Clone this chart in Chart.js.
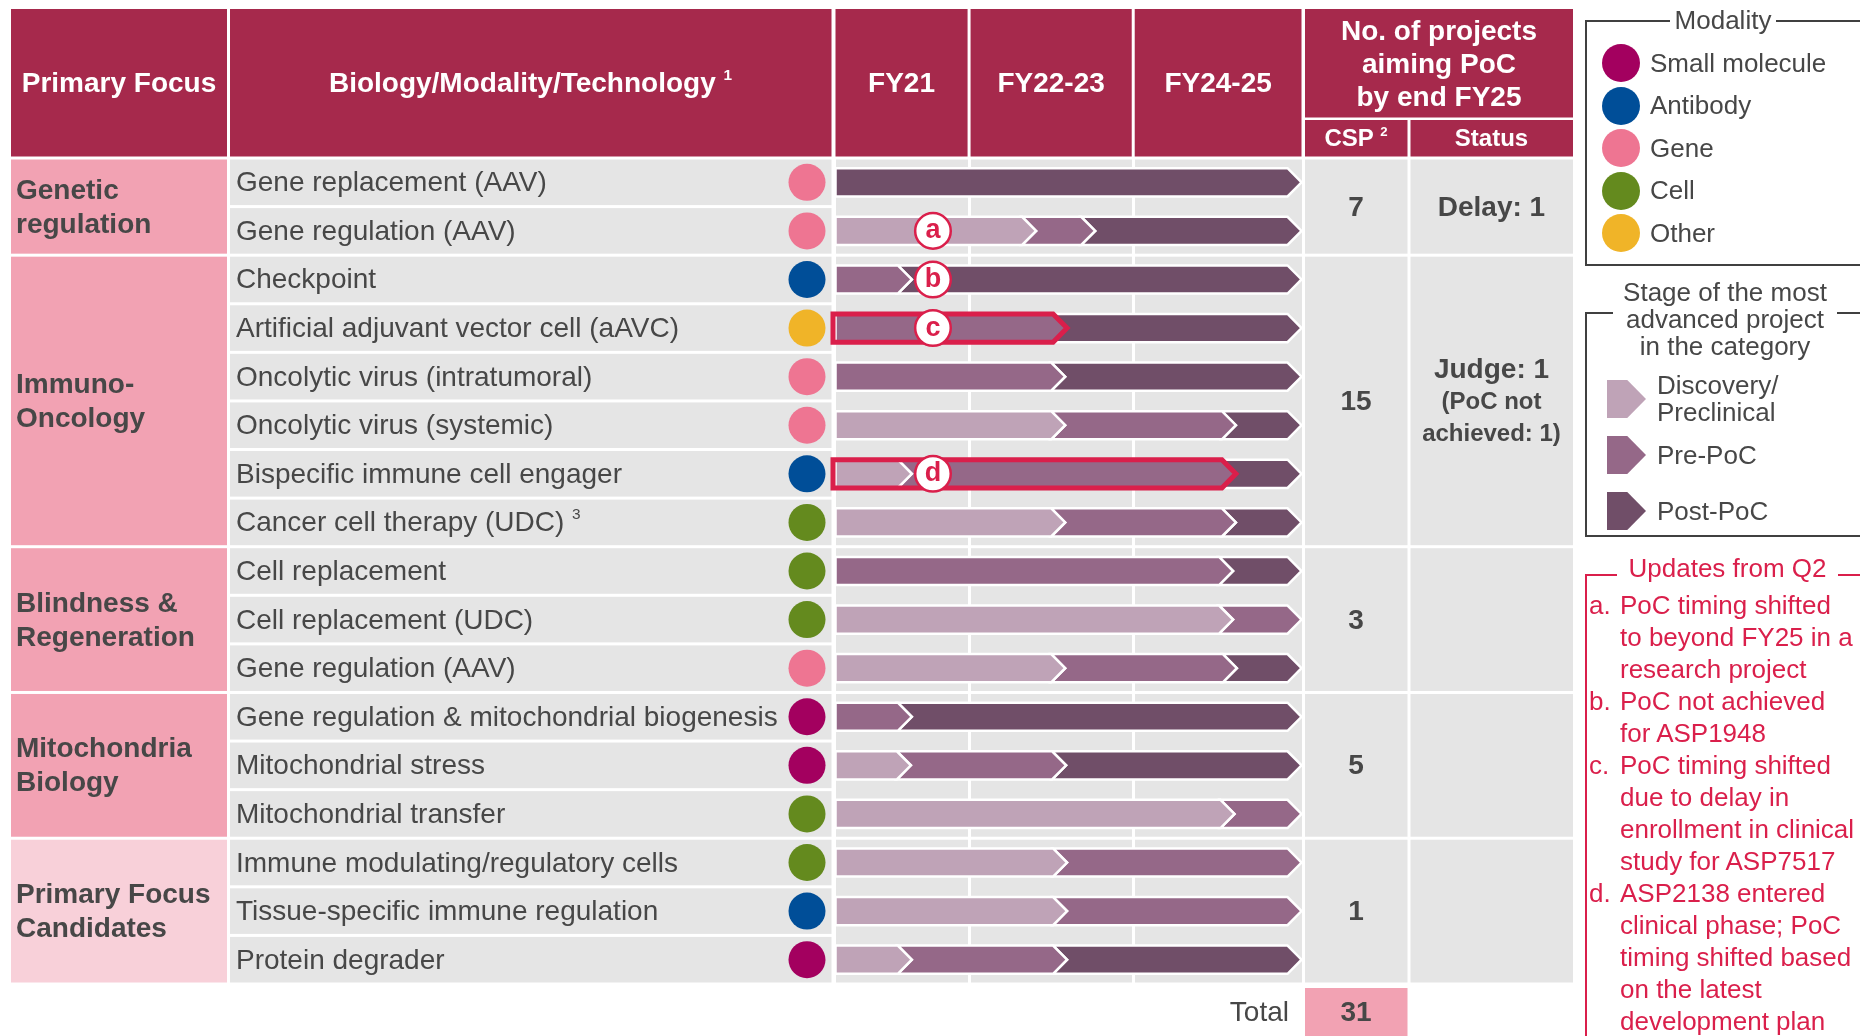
<!DOCTYPE html>
<html lang="en">
<head>
  <meta charset="UTF-8" />
  <title>Primary Focus pipeline</title>
  <script src="https://cdn.jsdelivr.net/npm/chart.js"></script>
  <style>
    html, body { margin: 0; padding: 0; background: #fff; }
    body {
      width: 1860px; height: 1036px; overflow: hidden; position: relative;
      font-family: 'Liberation Sans', Arial, Helvetica, sans-serif;
      color: #474747;
    }
    canvas { position: absolute; left: 0; top: 0; }
    .t { position: absolute; display: flex; align-items: center; white-space: nowrap; box-sizing: border-box; }
    .c { justify-content: center; text-align: center; }
    .b { font-weight: bold; }
    .hd { color: #fff; font-weight: bold; font-size: 28px; }
    sup { font-size: 0.55em; vertical-align: 0.75em; line-height: 0; }
  </style>
</head>
<body>
  <canvas id="pipe" width="1860" height="1036"></canvas>

  <script>
    // ---- data ----
    const rowLabels = [
      'Gene replacement (AAV)', 'Gene regulation (AAV)',
      'Checkpoint', 'Artificial adjuvant vector cell (aAVC)', 'Oncolytic virus (intratumoral)',
      'Oncolytic virus (systemic)', 'Bispecific immune cell engager', 'Cancer cell therapy (UDC)',
      'Cell replacement', 'Cell replacement (UDC)', 'Gene regulation (AAV)',
      'Gene regulation & mitochondrial biogenesis', 'Mitochondrial stress', 'Mitochondrial transfer',
      'Immune modulating/regulatory cells', 'Tissue-specific immune regulation', 'Protein degrader'
    ];
    const rowFootnotes = ['', '', '', '', '', '', '', '3', '', '', '', '', '', '', '', '', ''];
    const rowModality = [
      'Gene', 'Gene', 'Antibody', 'Other', 'Gene', 'Gene', 'Antibody', 'Cell', 'Cell', 'Cell', 'Gene',
      'Small molecule', 'Small molecule', 'Cell', 'Cell', 'Antibody', 'Small molecule'
    ];
    // stage segment lengths, % of the FY21-FY25 timeline
    const discovery = [0, 41.6, 0, 0, 0, 47.8, 15.1, 47.8, 0, 83.6, 47.8, 0, 14.9, 83.9, 48.2, 48.2, 15.1];
    const prePoC    = [0, 12.6, 15.1, 48.2, 47.8, 36.4, 69.1, 36.4, 83.6, 14.6, 36.6, 15.1, 33.1, 14.3, 50.0, 50.0, 33.1];
    const postPoC   = [98.2, 44.0, 83.1, 50.0, 50.4, 14.0, 14.0, 14.0, 14.6, 0, 13.8, 83.1, 50.2, 0, 0, 0, 50.0];

    const columnLabels = ['FY21', 'FY22-23', 'FY24-25'];
    const columnEdges = [0, 28.8, 63.8, 100];

    const groupNames = [['Genetic', 'regulation'], ['Immuno-', 'Oncology'], ['Blindness &', 'Regeneration'],
                        ['Mitochondria', 'Biology'], ['Primary Focus', 'Candidates']];
    const groupSizes = [2, 6, 3, 3, 3];
    const groupCSP = [7, 15, 3, 5, 1];
    const groupStatus = ['Delay: 1', 'Judge: 1', '', '', ''];
    const groupStatusNote = [[], ['(PoC not', 'achieved: 1)'], [], [], []];

    const modalities = ['Small molecule', 'Antibody', 'Gene', 'Cell', 'Other'];
    const modalityColors = ['#a3005f', '#004e98', '#ee7592', '#648a1e', '#f0b428'];
    const stages = ['Discovery/Preclinical', 'Pre-PoC', 'Post-PoC'];
    const stageLegend = [['Discovery/', 'Preclinical'], ['Pre-PoC'], ['Post-PoC']];
    const stageColors = ['#bfa3b7', '#956888', '#704e68'];

    const updateRows = [1, 2, 3, 6];
    const updateLetters = ['a', 'b', 'c', 'd'];
    const updateBoxed = [false, false, true, true];
    const updateMarkX = 21.1;
    const updateNotes = [
      ['PoC timing shifted', 'to beyond FY25 in a', 'research project'],
      ['PoC not achieved', 'for ASP1948'],
      ['PoC timing shifted', 'due to delay in', 'enrollment in clinical', 'study for ASP7517'],
      ['ASP2138 entered', 'clinical phase; PoC', 'timing shifted based', 'on the latest', 'development plan']
    ];

    const stageSeries = [discovery, prePoC, postPoC];

    const RED = '#da1f4b', CRIMSON = '#a6294c', PINK = '#f2a2b3', PINK_LIGHT = '#f8d0d9', GRAY = '#e5e5e5';
    const HEAD_TOP = 9, HEAD_BOT = 156.5;
    const CHEV = 7;

    function rowBand(y, i) {
      const step = y.getPixelForValue(1) - y.getPixelForValue(0);
      const c = y.getPixelForValue(i);
      return [c - step / 2, c + step / 2];
    }

    function groupBands(y) {
      let r0 = 0;
      return groupSizes.map(n => {
        const band = [rowBand(y, r0)[0] + 1.5, rowBand(y, r0 + n - 1)[1] - 1.5];
        r0 += n;
        return band;
      });
    }

    const tablePlugin = {
      id: 'table',
      beforeDraw(chart) {
        const { ctx, scales: { x, y } } = chart;
        ctx.save();
        ctx.fillStyle = CRIMSON;
        ctx.fillRect(11, HEAD_TOP, 216, HEAD_BOT - HEAD_TOP);
        ctx.fillRect(230, HEAD_TOP, 601.5, HEAD_BOT - HEAD_TOP);
        columnLabels.forEach((_, k) => {
          const l = x.getPixelForValue(columnEdges[k]) + 1.5;
          const r = x.getPixelForValue(columnEdges[k + 1]) - 1.5;
          ctx.fillRect(l, HEAD_TOP, r - l, HEAD_BOT - HEAD_TOP);
        });
        ctx.fillRect(1305, HEAD_TOP, 268, 108.5);
        ctx.fillRect(1305, 120, 102.5, HEAD_BOT - 120);
        ctx.fillRect(1410.5, 120, 162.5, HEAD_BOT - 120);

        groupBands(y).forEach(([t, b], g) => {
          ctx.fillStyle = g === groupSizes.length - 1 ? PINK_LIGHT : PINK;
          ctx.fillRect(11, t, 216, b - t);
          ctx.fillStyle = GRAY;
          ctx.fillRect(x.left, t, x.right - x.left, b - t);
          ctx.fillRect(1305, t, 102.5, b - t);
          ctx.fillRect(1410.5, t, 162.5, b - t);
        });
        ctx.fillStyle = GRAY;
        rowLabels.forEach((_, i) => {
          const [t, b] = rowBand(y, i);
          ctx.fillRect(230, t + 1.5, 601.5, b - t - 3);
        });
        ctx.fillStyle = PINK;
        ctx.fillRect(1305, 988, 102.5, 48);
        ctx.restore();
      }
    };

    const chevronPlugin = {
      id: 'chevrons',
      beforeDatasetDraw(chart, args) {
        const ctx = chart.ctx;
        const di = args.index;
        const color = chart.data.datasets[di].backgroundColor;
        ctx.save();
        args.meta.data.forEach((el, i) => {
          const { x, base, y, height } = el.getProps(['x', 'base', 'y', 'height'], true);
          if (Math.abs(x - base) < 0.5) return;
          const T = y - height / 2, B = y + height / 2;
          // first visible stage of the row gets a flat left end
          const first = stageSeries.slice(0, di).every(s => !s[i]);
          ctx.beginPath();
          ctx.moveTo(first ? base : base - CHEV, T);
          ctx.lineTo(x - CHEV, T);
          ctx.lineTo(x + CHEV, y);
          ctx.lineTo(x - CHEV, B);
          ctx.lineTo(first ? base : base - CHEV, B);
          if (!first) ctx.lineTo(base + CHEV, y);
          ctx.closePath();
          ctx.fillStyle = color;
          ctx.fill();
          ctx.strokeStyle = '#fff';
          ctx.lineWidth = 2.5;
          ctx.lineJoin = 'miter';
          ctx.stroke();
        });
        ctx.restore();
        return false;
      },
      afterDatasetsDraw(chart) {
        const { ctx, scales: { x, y } } = chart;
        const x0 = x.getPixelForValue(0);
        ctx.save();
        // modality dots
        rowModality.forEach((m, i) => {
          ctx.beginPath();
          ctx.arc(807, y.getPixelForValue(i), 18.5, 0, Math.PI * 2);
          ctx.fillStyle = modalityColors[modalities.indexOf(m)];
          ctx.fill();
        });
        // red outline round the updated stages
        updateRows.forEach((r, k) => {
          if (!updateBoxed[k]) return;
          const el = chart.getDatasetMeta(1).data[r];
          const { x: end, y: c, height } = el.getProps(['x', 'y', 'height'], true);
          const T = c - height / 2, B = c + height / 2;
          ctx.beginPath();
          ctx.moveTo(x0 - 1, T);
          ctx.lineTo(end - CHEV, T);
          ctx.lineTo(end + CHEV, c);
          ctx.lineTo(end - CHEV, B);
          ctx.lineTo(x0 - 1, B);
          ctx.closePath();
          ctx.strokeStyle = RED;
          ctx.lineWidth = 5;
          ctx.lineJoin = 'miter';
          ctx.stroke();
        });
        // circles for the update letters
        updateRows.forEach(r => {
          ctx.beginPath();
          ctx.arc(x.getPixelForValue(updateMarkX), y.getPixelForValue(r), 17.8, 0, Math.PI * 2);
          ctx.fillStyle = '#fff';
          ctx.fill();
          ctx.strokeStyle = RED;
          ctx.lineWidth = 2.5;
          ctx.stroke();
        });
        ctx.restore();
      }
    };

    const chart = new Chart(document.getElementById('pipe'), {
      type: 'bar',
      data: {
        labels: rowLabels,
        datasets: [
          { label: stages[0], data: discovery, backgroundColor: stageColors[0] },
          { label: stages[1], data: prePoC, backgroundColor: stageColors[1] },
          { label: stages[2], data: postPoC, backgroundColor: stageColors[2] }
        ]
      },
      options: {
        indexAxis: 'y',
        responsive: false,
        animation: false,
        layout: { padding: { left: 834, right: 557, top: 158, bottom: 52 } },
        datasets: { bar: { barPercentage: 0.58, categoryPercentage: 1 } },
        plugins: { legend: { display: false }, tooltip: { enabled: false } },
        scales: {
          x: {
            stacked: true, min: 0, max: 100, position: 'top',
            border: { display: false },
            ticks: { display: false },
            grid: { color: '#fff', lineWidth: 3, drawTicks: false },
            afterBuildTicks: s => { s.ticks = columnEdges.map(v => ({ value: v })); }
          },
          y: { stacked: true, display: false }
        }
      },
      plugins: [tablePlugin, chevronPlugin]
    });

    // ---- text laid over the canvas ----
    function put(html, l, t, w, h, cls, style) {
      const d = document.createElement('div');
      d.className = 't ' + (cls || '');
      Object.assign(d.style, { left: l + 'px', top: t + 'px', width: w + 'px', height: h + 'px' }, style || {});
      d.innerHTML = '<div>' + html + '</div>';
      document.body.appendChild(d);
      return d;
    }
    function box(l, t, w, h, style) {
      const d = document.createElement('div');
      Object.assign(d.style, { position: 'absolute', left: l + 'px', top: t + 'px', width: w + 'px', height: h + 'px' }, style);
      document.body.appendChild(d);
    }
    const esc = s => s.replace(/&/g, '&amp;');

    const xs = chart.scales.x, ys = chart.scales.y;
    const headH = HEAD_BOT - HEAD_TOP;

    put('Primary Focus', 11, HEAD_TOP, 216, headH, 'c hd');
    put('Biology/Modality/Technology <sup>1</sup>', 230, HEAD_TOP, 601, headH, 'c hd');
    columnLabels.forEach((lab, k) => {
      const l = xs.getPixelForValue(columnEdges[k]);
      const r = xs.getPixelForValue(columnEdges[k + 1]);
      put(lab, l, HEAD_TOP, r - l, headH, 'c hd');
    });
    put('No. of projects<br>aiming PoC<br>by end FY25', 1305, HEAD_TOP, 268, 108, 'c hd', { lineHeight: '33px' });
    put('CSP <sup>2</sup>', 1305, 120, 102, HEAD_BOT - 120, 'c hd', { fontSize: '24px' });
    put('Status', 1410, 120, 163, HEAD_BOT - 120, 'c hd', { fontSize: '24px' });

    rowLabels.forEach((lab, i) => {
      const [t, b] = rowBand(ys, i);
      const note = rowFootnotes[i] ? ' <sup>' + rowFootnotes[i] + '</sup>' : '';
      put(esc(lab) + note, 236, t, 560, b - t, '', { fontSize: '28px' });
    });

    groupBands(ys).forEach(([t, b], g) => {
      put(groupNames[g].map(esc).join('<br>'), 16, t, 210, b - t, 'b', { fontSize: '28px', lineHeight: '34px' });
      put(String(groupCSP[g]), 1305, t, 102, b - t, 'c b', { fontSize: '28px' });
      if (groupStatus[g]) {
        let html = groupStatus[g];
        if (groupStatusNote[g].length) {
          html += '<br><span style="font-size:24px">' + groupStatusNote[g].join('<br>') + '</span>';
        }
        put(html, 1410, t, 163, b - t, 'c b', { fontSize: '28px', lineHeight: '31px' });
      }
    });

    updateRows.forEach((r, k) => {
      const cx = xs.getPixelForValue(updateMarkX), cy = ys.getPixelForValue(r);
      put(updateLetters[k], cx - 19, cy - 20, 38, 38, 'c b', { color: RED, fontSize: '27px' });
    });

    put('Total', 1090, 988, 199, 48, '', { justifyContent: 'flex-end', fontSize: '28px' });
    put(String(groupCSP.reduce((a, b) => a + b, 0)), 1305, 988, 102, 48, 'c b', { fontSize: '28px' });

    // modality legend
    box(1585, 20, 300, 246, { border: '2px solid #404040', boxSizing: 'border-box' });
    put('Modality', 1670, 5, 106, 30, 'c', { fontSize: '26px', background: '#fff' });
    modalities.forEach((m, i) => {
      const cy = 63 + i * 42.6;
      box(1602, cy - 19, 38, 38, { borderRadius: '50%', background: modalityColors[i] });
      put(m, 1650, cy - 16, 200, 32, '', { fontSize: '26px' });
    });

    // stage legend
    box(1585, 312, 300, 225, { border: '2px solid #404040', boxSizing: 'border-box' });
    put('Stage of the most<br>advanced project<br>in the category', 1613, 278, 224, 82, 'c',
        { fontSize: '26px', lineHeight: '27px', background: '#fff' });
    stageLegend.forEach((lines, i) => {
      const cy = 399 + i * 56;
      box(1607, cy - 19, 39, 38, { background: stageColors[i], clipPath: 'polygon(0 0, 52% 0, 100% 50%, 52% 100%, 0 100%)' });
      put(lines.join('<br>'), 1657, cy - 30, 200, 60, '', { fontSize: '26px', lineHeight: '27px' });
    });

    // updates box
    box(1585, 574, 300, 600, { border: '2px solid ' + RED, boxSizing: 'border-box' });
    put('Updates from Q2', 1617, 553, 221, 30, 'c', { fontSize: '26px', color: RED, background: '#fff' });
    let line = 0;
    updateNotes.forEach((lines, k) => {
      lines.forEach((txt, j) => {
        const t = 589 + line * 32;
        if (j === 0) put(updateLetters[k] + '.', 1589, t, 30, 32, '', { fontSize: '26px', color: RED });
        put(esc(txt), 1620, t, 240, 32, '', { fontSize: '26px', color: RED });
        line++;
      });
    });
  </script>
</body>
</html>
